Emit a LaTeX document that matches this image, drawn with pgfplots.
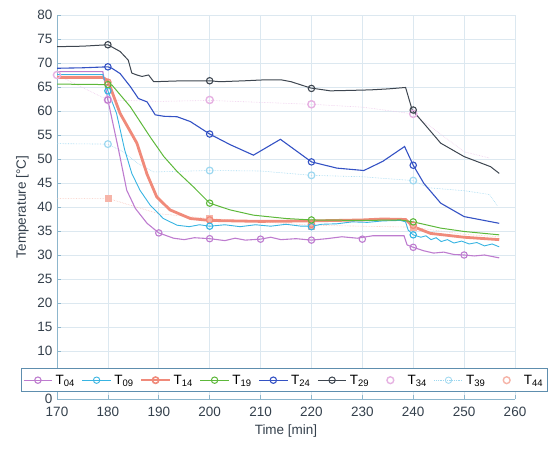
\documentclass[border=0pt]{standalone}
\usepackage{pgfplots}
\pgfplotsset{compat=1.18}
\usepackage{fontspec}
\setmainfont{Liberation Sans}
\definecolor{c04}{HTML}{BE7CCF}
\definecolor{c09}{HTML}{38B4E2}
\definecolor{c14}{HTML}{F08A7A}
\definecolor{c19}{HTML}{5DB83A}
\definecolor{c24}{HTML}{3452C4}
\definecolor{c29}{HTML}{3E4650}
\definecolor{c34}{HTML}{E6B2E2}
\definecolor{c39}{HTML}{9ED8F0}
\definecolor{c44}{HTML}{F6B4A8}
\definecolor{gridc}{HTML}{DCE8F0}
\definecolor{axc}{HTML}{8DB6CC}
\definecolor{tickc}{HTML}{34404C}
\definecolor{legc}{HTML}{5E8EAE}
\begin{document}
\begin{tikzpicture}
\begin{axis}[
  scale only axis, width=458pt, height=384pt,
  xmin=170, xmax=260, ymin=0, ymax=80,
  xtick={170,180,...,260}, ytick={0,5,...,80},
  yticklabels={0,,10,15,20,25,30,35,40,45,50,55,60,65,70,75,80},
  grid=major, major grid style={color=gridc, line width=0.6pt},
  axis x line*=bottom, axis y line*=left,
  axis line style={color=axc, line width=0.8pt, -},
  tick style={color=axc, line width=0.6pt},
  tick align=inside,
  xlabel={Time [min]}, ylabel={Temperature [°C]},
  every tick label/.append style={font=\fontsize{13.5}{15}\selectfont, text=tickc},
  xticklabel style={yshift=-5pt},
  yticklabel style={xshift=-1pt},
  label style={font=\fontsize{13.5}{15}\selectfont, text=tickc},
  xlabel style={yshift=-1pt},
  ylabel style={yshift=2pt},
  /pgf/number format/assume math mode=true,
  legend columns=9,
  legend style={at={(0.496,0.049)}, anchor=center, draw=legc, line width=0.8pt, fill=white,
    font=\fontsize{13.5}{15}\selectfont, inner xsep=2pt, inner ysep=4pt,
    /tikz/every even column/.append style={column sep=5pt},
    /tikz/every odd column/.append style={column sep=1pt}},
  legend cell align=left,
  legend image code/.code={\draw[mark repeat=2,mark phase=2] plot coordinates {(0cm,0cm) (0.5cm,0cm) (1.0cm,0cm)};},
]
% ---- pale series (T34, T39, T44)
\addplot[forget plot, c34!70, line width=0.6pt, densely dotted] coordinates {
(170,67.5) (180,62.3) (190,62.0) (200,62.2) (210,61.8) (220,61.4) (230,60.8) (240,59.4) (245,55.5) (250,51.5) (255,50.2)};
\addplot[forget plot, only marks, mark=o, c34, mark size=3.6pt, line width=1.4pt] coordinates {
(170,67.5) (180,62.3) (200,62.3) (220,61.4) (240,59.4)};
\addplot[forget plot, c39, line width=0.6pt, densely dotted] coordinates {
(170,53.2) (180,53.1) (183,51.5) (186,49.0) (189,47.3) (200,47.6) (210,47.5) (220,46.6) (230,46.3) (240,45.5) (243,44.0) (250,43.4) (255,42.6) (256.5,40.3)};
\addplot[forget plot, only marks, mark=o, c39, mark size=3.4pt, line width=1.2pt] coordinates {
(180,53.1) (200,47.6) (220,46.6) (240,45.5)};
\addplot[forget plot, c44!80, line width=0.6pt, densely dotted] coordinates {
(170,41.8) (180,41.8) (184,40.5) (190,38.6) (200,37.6) (220,36.2) (240,35.8) (250,34.3) (256.9,33.8)};
\addplot[forget plot, only marks, mark=square*, c44, mark size=3pt] coordinates {
(180,41.8) (200,37.6) (220,36.1) (240,35.8)};
% ---- T14 (thick salmon)
\addplot[forget plot, c14, line width=2.8pt] coordinates {
(170,67.0) (179,67.0) (180,66.3) (182.4,59.5) (185.7,53.3) (187.7,46.8) (189.6,42.1) (192.2,39.4) (196.2,37.6) (200,37.2) (210,37.0) (220,37.1) (230,37.3) (234,37.5) (238.5,37.4) (240,35.9) (243.4,34.5) (250,33.7) (256.9,33.2)};
\addplot[forget plot, only marks, mark=o, c14, mark size=3.2pt, line width=1.2pt] coordinates {
(180,66.0) (200,37.3) (220,36.4) (240,36.2)};
% ---- T04
\addplot[forget plot, c04, line width=1.1pt] coordinates {
(170,68.2) (179,68.2) (180,62.3) (182.1,51.9) (183.7,43.5) (185.4,39.7) (187.7,36.6) (190,34.6) (192.9,33.5) (195,33.2) (197,33.6) (200,33.4) (203,33.0) (205,33.5) (207,33.1) (210,33.3) (212,33.7) (214,33.2) (217,33.4) (220,33.1) (223,33.4) (226,33.8) (229,33.5) (232,34.0) (235,34.0) (238.2,34.0) (238.8,32.1) (240,31.6) (242,30.9) (244,30.4) (246,30.6) (248,30.1) (250,30.0) (252,29.8) (254,30.0) (256.9,29.4)};
\addplot[forget plot, only marks, mark=o, c04, mark size=3.2pt, line width=1.1pt] coordinates {
(180,62.3) (190,34.6) (200,33.4) (210,33.3) (220,33.1) (230,33.3) (240,31.6) (250,30.0)};
% ---- T09
\addplot[forget plot, c09, line width=0.9pt] coordinates {
(170,67.6) (179,67.6) (180,64.2) (181.7,59.5) (183.3,51.9) (184.7,47.0) (186.3,43.5) (188.3,40.4) (190.9,37.6) (193.6,36.2) (196,35.9) (198,36.3) (200,36.0) (203,36.3) (206,35.9) (209,36.3) (212,36.0) (215,36.4) (218,36.0) (220,36.0) (222,36.4) (225,36.5) (228,36.9) (231,36.8) (234,37.1) (237.5,37.2) (238.5,36.9) (239,35.2) (240,34.2) (241.5,33.7) (242.5,34.0) (243.5,33.2) (244.5,33.6) (245.5,32.8) (246.7,33.2) (248,32.5) (249.5,32.9) (251,32.3) (252.5,32.6) (254,31.9) (255.5,32.3) (256.9,31.7)};
\addplot[forget plot, only marks, mark=o, c09, mark size=3.2pt, line width=1.1pt] coordinates {
(180,64.2) (200,36.0) (220,35.9) (240,34.2)};
% ---- T19
\addplot[forget plot, c19, line width=1.0pt] coordinates {
(170,65.6) (180,65.5) (180.8,65.4) (184.4,60.9) (188.3,54.6) (191,50.5) (193.6,47.4) (196.8,44.2) (200,40.8) (204,39.4) (208.6,38.3) (215,37.6) (220,37.3) (230,37.2) (237.5,37.3) (240,36.9) (245.4,35.6) (250,34.9) (256.9,34.2)};
\addplot[forget plot, only marks, mark=o, c19, mark size=3.2pt, line width=1.1pt] coordinates {
(180,65.5) (200,40.8) (220,37.3) (240,36.9)};
% ---- T24
\addplot[forget plot, c24, line width=1.1pt] coordinates {
(170,68.9) (175,69.0) (180,69.2) (180.8,68.9) (182.4,67.8) (184.4,65.1) (186,62.6) (187.7,61.9) (189.3,59.2) (191,58.9) (193.6,58.8) (196.2,57.8) (200,55.2) (204,53.0) (208.6,50.8) (213.9,54.1) (220,49.4) (225,48.1) (230.3,47.6) (234,49.5) (238.3,52.6) (240,48.7) (242.1,44.9) (245.4,40.8) (250,38.0) (256.9,36.6)};
\addplot[forget plot, only marks, mark=o, c24, mark size=3.2pt, line width=1.1pt] coordinates {
(180,69.2) (200,55.2) (220,49.4) (240,48.7)};
% ---- T29
\addplot[forget plot, c29, line width=1.0pt] coordinates {
(170,73.4) (175,73.5) (180,73.8) (182.4,72.4) (184,70.6) (184.7,67.9) (185.7,67.5) (186.7,67.2) (188,67.5) (189,66.1) (192,66.2) (195,66.3) (200,66.3) (202,66.1) (207,66.3) (211,66.5) (214,66.5) (216,66.1) (219.8,64.8) (223.7,64.2) (228,64.3) (231.6,64.4) (235,64.6) (238.5,64.9) (239.8,60.2) (242.1,57.4) (245.4,53.3) (250,50.5) (255.2,48.4) (256.9,47.0)};
\addplot[forget plot, only marks, mark=o, c29, mark size=3.2pt, line width=1.1pt] coordinates {
(180,73.8) (200,66.3) (220,64.7) (240,60.2)};
% ---- legend
\addlegendimage{c04, line width=1.1pt, mark=o, mark size=3.2pt}
\addlegendentry{T\textsubscript{04}}
\addlegendimage{c09, line width=0.9pt, mark=o, mark size=3.2pt}
\addlegendentry{T\textsubscript{09}}
\addlegendimage{c14, line width=1.6pt, mark=o, mark size=3.2pt}
\addlegendentry{T\textsubscript{14}}
\addlegendimage{c19, line width=1.0pt, mark=o, mark size=3.2pt}
\addlegendentry{T\textsubscript{19}}
\addlegendimage{c24, line width=1.1pt, mark=o, mark size=3.2pt}
\addlegendentry{T\textsubscript{24}}
\addlegendimage{c29, line width=1.0pt, mark=o, mark size=3.2pt}
\addlegendentry{T\textsubscript{29}}
\addlegendimage{white, line width=0.1pt, mark=o, mark size=3.4pt, mark options={draw=c34, line width=1.4pt}}
\addlegendentry{T\textsubscript{34}}
\addlegendimage{c39, densely dotted, line width=0.8pt, mark=o, mark size=3.2pt, mark options={solid}}
\addlegendentry{T\textsubscript{39}}
\addlegendimage{white, line width=0.1pt, mark=o, mark size=3.4pt, mark options={draw=c44, line width=1.4pt}}
\addlegendentry{T\textsubscript{44}}
\end{axis}
\path ([shift={(-57pt,-49pt)}]current axis.south west) ([shift={(44pt,15pt)}]current axis.north east);
\end{tikzpicture}
\end{document}
